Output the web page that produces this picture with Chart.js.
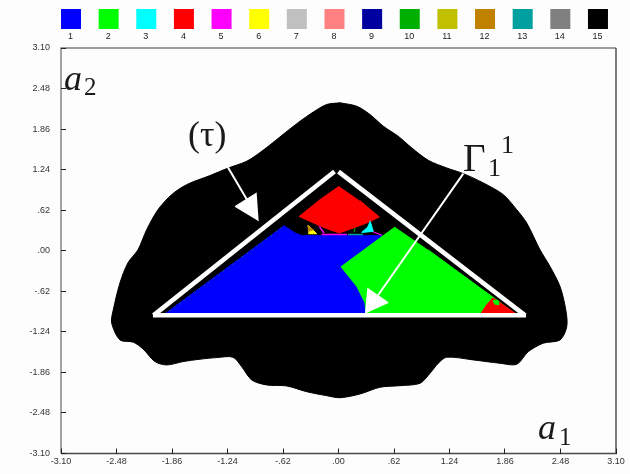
<!DOCTYPE html>
<html>
<head>
<meta charset="utf-8">
<script src="https://cdn.jsdelivr.net/npm/chart.js@4/dist/chart.umd.min.js"></script>
<style>html,body{margin:0;padding:0;background:#fdfdfd}canvas{display:block}</style>
</head>
<body>
<canvas id="c" width="630" height="474"></canvas>
<script>
const legendLabels = ["1","2","3","4","5","6","7","8","9","10","11","12","13","14","15"];
const legendColors = ["#0000ff","#00ff00","#00ffff","#ff0000","#ff00ff","#ffff00","#c0c0c0","#ff8080","#0000a0","#00b000","#c0c000","#c08000","#00a0a0","#808080","#000000"];
const tickValues = [-3.1,-2.48,-1.86,-1.24,-0.62,0,0.62,1.24,1.86,2.48,3.1];
const tickLabels = ["-3.10","-2.48","-1.86","-1.24","-.62",".00",".62","1.24","1.86","2.48","3.10"];

const region15 = [[.017,2.262],[.203,2.21],[.352,2.083],[.501,1.904],[.668,1.75],[.818,1.573],[1.003,1.383],[1.209,1.266],[1.394,1.179],[1.618,1.037],[1.841,.858],[1.991,.628],[2.103,.424],[2.251,.015],[2.363,-.24],[2.475,-.547],[2.539,-.904],[2.55,-1.159],[2.475,-1.363],[2.288,-1.413],[2.121,-1.542],[1.991,-1.735],[1.804,-1.72],[1.506,-1.669],[1.209,-1.628],[1.115,-1.72],[1.022,-1.873],[.911,-2.026],[.687,-2.063],[.464,-2.087],[.24,-2.19],[.017,-2.247],[-.132,-2.216],[-.355,-2.155],[-.579,-2.067],[-.802,-2.052],[-.97,-1.975],[-1.082,-1.772],[-1.179,-1.628],[-1.361,-1.634],[-1.547,-1.658],[-1.737,-1.695],[-1.92,-1.746],[-2.05,-1.695],[-2.184,-1.501],[-2.293,-1.398],[-2.441,-1.363],[-2.534,-1.103],[-2.516,-.904],[-2.441,-.49],[-2.352,-.184],[-2.24,.015],[-2.143,.322],[-2.017,.628],[-1.864,.858],[-1.696,1.011],[-1.436,1.149],[-1.249,1.256],[-1.026,1.368],[-.877,1.501],[-.732,1.654],[-.598,1.802],[-.43,1.98],[-.285,2.118],[-.132,2.236],[.017,2.262]];
const region1 = [[-1.939,-.965],[-.609,.383],[-.486,.271],[-.408,.23],[.486,.23],[.028,-.26],[.207,-.551],[.296,-.796],[.307,-.965]];
const region2 = [[.631,.363],[.028,-.245],[.207,-.551],[.296,-.796],[.307,-.965],[1.972,-.965],[1.749,-.735],[1,.015]];
const region4Corner = [[1.589,-.965],[1.656,-.827],[1.723,-.724],[1.838,-.827],[1.983,-.965]];
const region2Speck = [[1.723,-.766],[1.782,-.758],[1.793,-.827],[1.737,-.812]];
const region4Kite = [[.006,.985],[-.207,.781],[-.438,.525],[-.318,.449],[-.151,.348],[.009,.271],[.165,.348],[.315,.424],[.456,.516],[.24,.766]];
const region3 = [[.352,.459],[.389,.296],[.259,.28],[.315,.348]];
const region6 = [[-.337,.387],[-.244,.26],[-.337,.26]];
const region12 = [[-.349,.387],[-.282,.322],[-.337,.296]];
const region5Diag = [[-.215,.372],[-.162,.271]];
const region5Flat = [[-.188,.25],[.095,.25]];
const region13Flat = [[.106,.25],[.274,.25]];
const region5Right = [[.385,.291],[.486,.237]];
const region10Sliver = [[.184,.348],[.173,.28]];
const region10Edge = [[-1.883,-.919],[-.62,.368]];
const triangleLeft = [[-2.067,-.988],[-.045,1.21]];
const triangleRight = [[0,1.21],[2.084,-.988]];
const triangleBase = [[-2.073,-.988],[2.095,-.988]];
const tauArrowLine = [[-1.313,1.455],[-1.022,.781]];
const tauArrowHead = [[-.914,.884],[-1.156,.678],[-.892,.459]];
const gammaArrowLine = [[1.394,1.179],[.43,-.704]];
const gammaArrowHead = [[.322,-.571],[.556,-.793],[.296,-.954]];

const pts = a => a.map(p => ({x:p[0], y:p[1]}));
const poly = (a, color, bend) => ({data:pts(a), showLine:true, fill:'shape', backgroundColor:color, borderColor:color, borderWidth:1, pointRadius:0, tension:bend||0});
const line = (a, color, w, dash) => ({data:pts(a), showLine:true, fill:false, borderColor:color, borderWidth:w, borderDash:dash||[], pointRadius:0, tension:0});

const layers = [
  poly(region15, "#000000", 0.3),
  poly(region1, "#0000ff"),
  poly(region2, "#00ff00"),
  poly(region4Corner, "#ff0000"),
  poly(region2Speck, "#00ff00"),
  poly(region4Kite, "#ff0000"),
  poly(region3, "#00ffff"),
  poly(region6, "#ffff00"),
  poly(region12, "#c08000"),
  line(region5Diag, "#ff00ff", 1.5),
  line(region5Flat, "#ff00ff", 1.5),
  line(region13Flat, "#00a0a0", 1.5),
  line(region5Right, "#ff00ff", 1.2),
  line(region10Sliver, "#00b000", 1),
  line(region10Edge, "#00b000", 1, [1,5]),
  line(triangleLeft, "#ffffff", 4.5),
  line(triangleRight, "#ffffff", 4.5),
  line(triangleBase, "#ffffff", 4.5),
  line(tauArrowLine, "#ffffff", 2),
  poly(tauArrowHead, "#ffffff"),
  line(gammaArrowLine, "#ffffff", 2),
  poly(gammaArrowHead, "#ffffff")
];
layers.forEach((d,i) => { d.order = layers.length - i; });

const paper = {
  id:'paper',
  beforeDraw(chart){
    const c = chart.ctx, a = chart.chartArea;
    c.save();
    c.fillStyle = '#fdfdfd';
    c.fillRect(0,0,chart.width,chart.height);
    c.lineWidth = 1.4;
    c.strokeStyle = '#7c7c7c';
    c.beginPath(); c.moveTo(a.left,a.bottom); c.lineTo(a.left,a.top); c.lineTo(a.right,a.top); c.stroke();
    c.strokeStyle = '#484848';
    c.beginPath(); c.moveTo(a.left,a.bottom); c.lineTo(a.right,a.bottom); c.lineTo(a.right,a.top); c.stroke();
    c.restore();
  }
};

const swatches = {
  id:'swatches',
  afterDraw(chart){
    const c = chart.ctx;
    c.save();
    c.textAlign = 'center';
    c.textBaseline = 'middle';
    c.font = '9px "Liberation Sans"';
    legendLabels.forEach((t,i) => {
      const x = 61 + i*37.64;
      c.fillStyle = legendColors[i];
      c.fillRect(x,9,20,20);
      c.fillStyle = '#222222';
      c.fillText(t, x+9.5, 37);
    });
    c.restore();
  }
};

const notes = {
  id:'notes',
  afterDraw(chart){
    const c = chart.ctx;
    const put = (t,x,y,size,italic) => {
      c.font = (italic?'italic ':'') + size + 'px "Liberation Serif"';
      c.fillText(t,x,y);
    };
    c.save();
    c.fillStyle = '#1a1a1a';
    c.textAlign = 'left';
    c.textBaseline = 'alphabetic';
    put('a',64,90,36,true);
    put('2',84,95,25,false);
    put('a',538,439,36,true);
    put('1',559,445,25,false);
    put('(τ)',188,146,36,false);
    put('Γ',463,171,39,false);
    put('1',488,176,26,false);
    put('1',501,153,26,false);
    c.restore();
  }
};

const axis = (labels) => ({
  type:'linear', min:-3.1, max:3.1,
  afterBuildTicks: s => { s.ticks = tickValues.map(v => ({value:v})); },
  grid:{drawOnChartArea:false, drawTicks:true, tickLength:-5, tickColor:'#222222'},
  border:{display:false},
  ticks:{
    autoSkip:false, maxRotation:0, minRotation:0, color:'#333333',
    font:{family:'"Liberation Sans"', size:9},
    callback:(v,i) => labels[i]
  }
});
const xAxis = axis(tickLabels);
xAxis.ticks.padding = 8;
xAxis.afterFit = s => { s.height = 20.5; s.paddingLeft = 0; s.paddingRight = 0; };
const yAxis = axis(tickLabels);
yAxis.ticks.padding = 16;
yAxis.afterFit = s => { s.width = 61; s.paddingTop = 0; s.paddingBottom = 0; };

new Chart(document.getElementById('c'), {
  type:'scatter',
  data:{datasets:layers},
  options:{
    responsive:false, animation:false,
    layout:{padding:{top:48,right:14,left:0,bottom:0}},
    plugins:{legend:{display:false}, tooltip:{enabled:false}, title:{display:false}},
    scales:{x:xAxis, y:yAxis}
  },
  plugins:[paper, swatches, notes]
});
</script>
</body>
</html>
